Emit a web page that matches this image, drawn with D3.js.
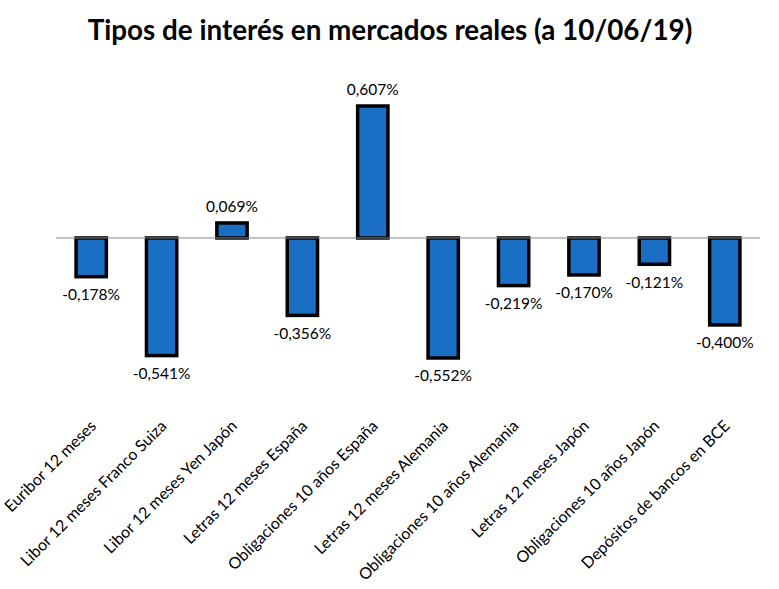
<!DOCTYPE html>
<html>
<head>
<meta charset="utf-8">
<script src="https://cdn.jsdelivr.net/npm/d3@7"></script>
<style>
  body { margin: 0; background: #fff; }
  text { font-family: Lato, "Open Sans", sans-serif; }
</style>
</head>
<body>
<div id="chart"></div>
<script>
// ---------- data ----------
const categories = [
  "Euribor 12 meses",
  "Libor 12 meses Franco Suiza",
  "Libor 12 meses Yen Japón",
  "Letras 12 meses España",
  "Obligaciones 10 años España",
  "Letras 12 meses Alemania",
  "Obligaciones 10 años Alemania",
  "Letras 12 meses Japón",
  "Obligaciones 10 años Japón",
  "Depósitos de bancos en BCE"
];
const values = [-0.178, -0.541, 0.069, -0.356, 0.607, -0.552, -0.219, -0.170, -0.121, -0.400];
const title = "Tipos de interés en mercados reales (a 10/06/19)";

// ---------- draw ----------
const W = 779, H = 589;
const pad = { left: 56, right: 19 };
const svg = d3.select("#chart").append("svg").attr("width", W).attr("height", H);

const x = d3.scaleBand().domain(categories).range([pad.left, W - pad.right]).paddingInner(0.57).paddingOuter(0.285);
const y = d3.scaleLinear().domain([-0.552, 0.607]).range([358, 106]);

const fmt = v => d3.format(".3f")(v).replace(".", ",").replace("−", "-") + "%";

svg.append("text")
  .attr("x", W / 2 + 0.5).attr("y", 40)
  .attr("text-anchor", "middle")
  .style("font-size", "27.8px").style("font-weight", 700)
  .text(title);

// bars
svg.append("g").selectAll("rect").data(values).enter().append("rect")
  .attr("x", (d, i) => x(categories[i]))
  .attr("y", d => y(Math.max(0, d)))
  .attr("width", x.bandwidth())
  .attr("height", d => Math.abs(y(d) - y(0)))
  .attr("fill", "#1a6fc4")
  .attr("stroke", "#000")
  .attr("stroke-width", 3.5);

// zero line
svg.append("line")
  .attr("x1", pad.left).attr("x2", W - pad.right)
  .attr("y1", y(0)).attr("y2", y(0))
  .attr("stroke", "#888").attr("stroke-width", 1);

// value labels
svg.append("g").selectAll("text").data(values).enter().append("text")
  .attr("x", (d, i) => x(categories[i]) + x.bandwidth() / 2)
  .attr("y", d => d >= 0 ? y(d) - 16 : y(d) + 18)
  .attr("dy", "0.35em")
  .attr("text-anchor", "middle")
  .style("font-size", "15.5px")
  .text(fmt);

// category labels
svg.append("g").selectAll("text").data(categories).enter().append("text")
  .attr("transform", d => `translate(${x(d) + x.bandwidth() / 2 + 6},${427}) rotate(-45)`)
  .attr("text-anchor", "end")
  .style("font-size", "16px")
  .text(d => d);
</script>
</body>
</html>
